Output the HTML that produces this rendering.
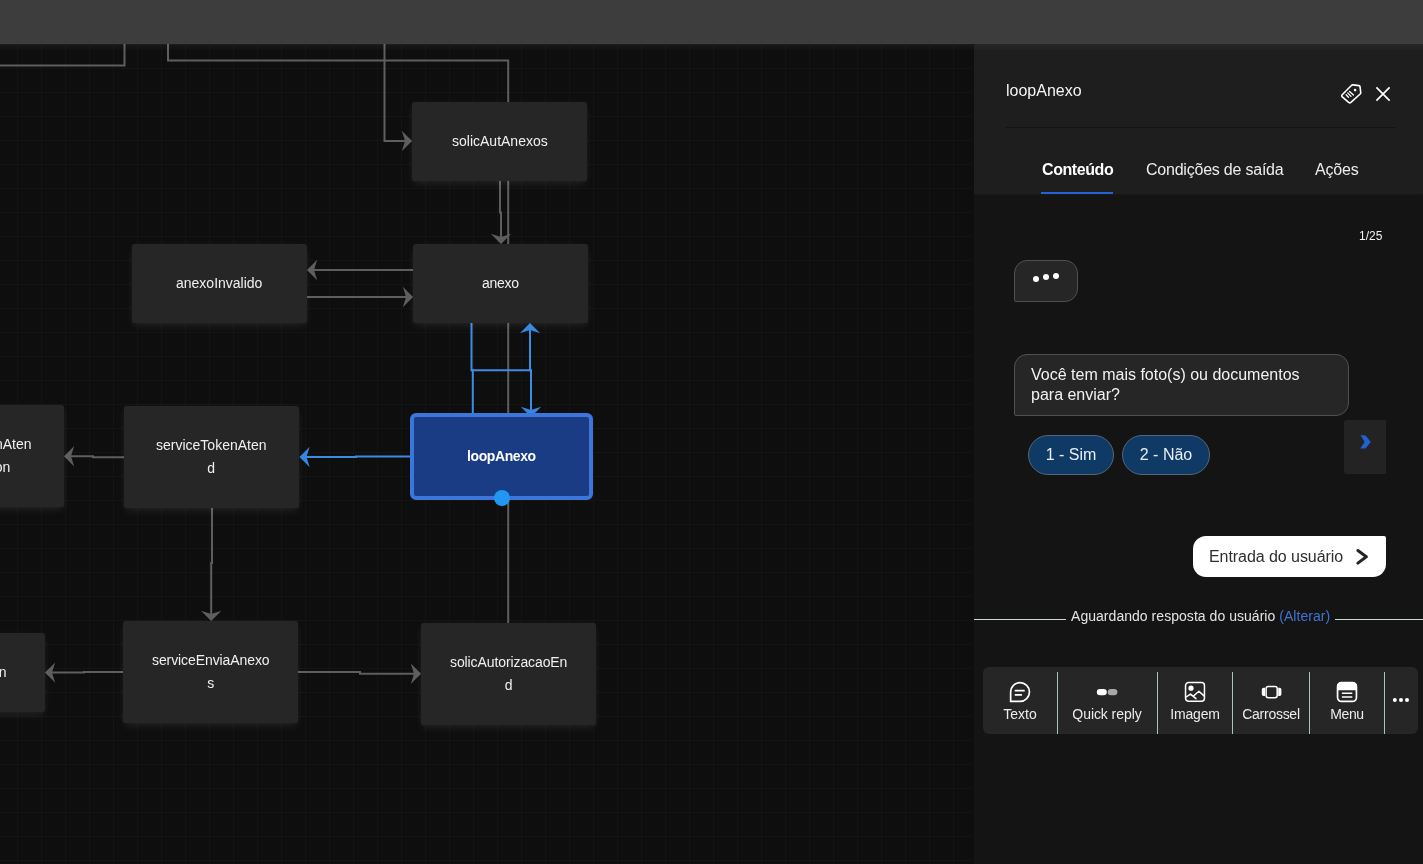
<!DOCTYPE html>
<html lang="pt-BR">
<head>
<meta charset="utf-8">
<title>loopAnexo</title>
<style>
*{box-sizing:border-box;margin:0;padding:0}
html,body{width:1423px;height:864px;overflow:hidden;background:#0e0e0e;font-family:"Liberation Sans",sans-serif;color:#f2f2f2}
#app{position:relative;width:1423px;height:864px;overflow:hidden}
#topbar{position:absolute;left:0;top:0;width:1423px;height:44px;background:#3d3d3d;z-index:30}
#topglow{position:absolute;left:0;top:44px;width:1423px;height:7px;z-index:25;background:linear-gradient(rgba(255,255,255,.04),rgba(255,255,255,.025) 50%,rgba(255,255,255,0))}
#canvas{position:absolute;left:0;top:44px;width:972px;height:820px;overflow:hidden;background-color:#0e0e0e;
background-image:linear-gradient(to right,#141414 1px,transparent 1px),linear-gradient(to bottom,#141414 1px,transparent 1px);
background-size:24px 24px;background-position:17px 0px}
#links{position:absolute;left:0;top:-44px;width:974px;height:864px}
.node{position:absolute;width:175px;height:79px;background:#262626;border-radius:2.5px;box-shadow:0 4px 8px -1px rgba(255,255,255,.08),0 0 6px rgba(255,255,255,.035);
display:flex;align-items:center;justify-content:center;text-align:center;font-size:14px;line-height:22.5px;color:#f0f0f0}
.node.two{height:101.5px}
.node.sel{width:183px;height:87px;background:#193c84;border:4px solid #3d76db;border-radius:6px;font-weight:bold;color:#fff;box-shadow:none}
.node span{display:block;white-space:nowrap;will-change:transform}
.t{will-change:transform}
#dot{position:absolute;left:494px;top:446px;width:16px;height:16px;border-radius:50%;background:#2196f3}

#panel{position:absolute;left:974px;top:44px;width:449px;height:820px;background:#141414;z-index:20}
#phead{position:absolute;left:0;top:0;width:449px;height:150px;background:#1e1e1e;box-shadow:0 1px 2px rgba(255,255,255,.03)}
#ptitle{position:absolute;left:32px;top:37px;font-size:16px;line-height:20px;color:#f4f4f4;white-space:nowrap}
#pdiv{position:absolute;left:32px;top:83px;width:389px;height:1px;background:#131313}
.tab{position:absolute;top:115.5px;font-size:16px;line-height:20px;color:#ededed;white-space:nowrap}
#tabline{position:absolute;left:67px;top:148px;width:72px;height:2px;background:#2563d4}
#count{position:absolute;left:384.5px;top:185px;font-size:12px;line-height:14px;color:#f0f0f0}
.bub{position:absolute;background:#262626;border:1px solid #505050;border-radius:13px 13px 13px 2px}
#typing{left:40px;top:216px;width:64px;height:42px}
#typing i{position:absolute;width:6.4px;height:6.4px;border-radius:50%;background:#fff}
#msg{left:40px;top:310px;width:335px;height:62px;padding:10px 16px;font-size:16px;line-height:20px;color:#f2f2f2;white-space:nowrap}
.qr{position:absolute;top:391px;height:40px;border-radius:20px;background:#0f3a65;border:1px solid #55657b;font-size:16px;line-height:38px;text-align:center;color:#eaeef3;white-space:nowrap}
#next{position:absolute;left:370px;top:376px;width:42px;height:54px;background:#232323;border-radius:3px 0 0 3px}
#userin{position:absolute;left:218.6px;top:492.3px;width:193.5px;height:41px;background:#fff;border-radius:13px 2px 13px 13px;color:#2e2e2e;font-size:16px;line-height:42px;padding-left:16.2px;letter-spacing:-.06px;white-space:nowrap}
#wait{position:absolute;left:0;top:561.5px;width:449px;height:20px;font-size:14px;line-height:20px;color:#e4e4e4;white-space:nowrap;letter-spacing:.04px}
#wait b{position:absolute;top:13.5px;height:1px;background:#c9dcdc}
#wait span{position:absolute;left:97px;top:0}
#wait a{color:#4273d2;text-decoration:none}
#tools{position:absolute;left:9px;top:623px;width:435px;height:67px;background:#262626;border-radius:6px}
#tools .sep{position:absolute;top:5px;width:1px;height:62px;background:#a9c4be}
#tools .lbl{position:absolute;top:38px;font-size:14px;line-height:18px;color:#ececec;white-space:nowrap;transform:translateX(-50%)}
#tools svg{position:absolute}
</style>
</head>
<body>
<div id="app">
<div id="topbar"></div>
<div id="topglow"></div>
<div id="canvas">
<svg id="links" viewBox="0 0 974 864" fill="none" stroke="#5e5e5e" stroke-width="2">
<!-- top-left connectors -->
<path d="M0 65.5H124.5V40"/>
<path d="M168 40V60.5H508.2V624"/>
<path d="M384.5 40V141H408"/>
<path d="M0 0L-10.2 -10.2L-7 0L-10.2 10.2Z" transform="translate(412 141)" fill="#5e5e5e" stroke="none"/>
<!-- solicAutAnexos -> anexo -->
<path d="M500 180V212.5H501V240"/>
<path d="M0 0L-10.2 -10.2L-7 0L-10.2 10.2Z" transform="translate(501 244) rotate(90)" fill="#5e5e5e" stroke="none"/>
<!-- anexo <-> anexoInvalido -->
<path d="M414 270H311"/>
<path d="M0 0L-10.2 -10.2L-7 0L-10.2 10.2Z" transform="translate(307 270) rotate(180)" fill="#5e5e5e" stroke="none"/>
<path d="M306 297H409"/>
<path d="M0 0L-10.2 -10.2L-7 0L-10.2 10.2Z" transform="translate(413 297)" fill="#5e5e5e" stroke="none"/>
<!-- blue loop -->
<g stroke="#3d8ce4">
<path d="M471.5 322V370.3H472.8V415"/>
<path d="M471.5 370.3H531"/>
<path d="M530 328V370.3H531V414"/>
<path d="M411 456.6H356V457H304"/>
</g>
<path d="M0 0L-10.2 -10.2L-7 0L-10.2 10.2Z" transform="translate(530 323) rotate(-90)" fill="#3686df" stroke="none"/>
<path d="M0 0L-10.2 -10.2L-7 0L-10.2 10.2Z" transform="translate(531 417) rotate(90)" fill="#3686df" stroke="none"/>
<path d="M0 0L-10.2 -10.2L-7 0L-10.2 10.2Z" transform="translate(299.5 457) rotate(180)" fill="#3686df" stroke="none"/>
<!-- serviceTokenAtend -> left -->
<path d="M125 457.2H93V456.3H68"/>
<path d="M0 0L-10.2 -10.2L-7 0L-10.2 10.2Z" transform="translate(64 456.3) rotate(180)" fill="#5e5e5e" stroke="none"/>
<!-- serviceTokenAtend -> serviceEnviaAnexos -->
<path d="M212 506V563H211.2V617"/>
<path d="M0 0L-10.2 -10.2L-7 0L-10.2 10.2Z" transform="translate(211.2 621) rotate(90)" fill="#5e5e5e" stroke="none"/>
<!-- serviceEnviaAnexos -> left -->
<path d="M124 672H84V672.6H49"/>
<path d="M0 0L-10.2 -10.2L-7 0L-10.2 10.2Z" transform="translate(45 672.6) rotate(180)" fill="#5e5e5e" stroke="none"/>
<!-- serviceEnviaAnexos -> solicAutorizacaoEnd -->
<path d="M297 672H360V673.8H417"/>
<path d="M0 0L-10.2 -10.2L-7 0L-10.2 10.2Z" transform="translate(421 673.8)" fill="#5e5e5e" stroke="none"/>
</svg>

<div class="node" style="left:412px;top:58px"><span>solicAutAnexos</span></div>
<div class="node" style="left:132px;top:200px"><span>anexoInvalido</span></div>
<div class="node" style="left:413px;top:200px"><span style="letter-spacing:-.3px">anexo</span></div>
<div class="node sel" style="left:410px;top:369px"><span style="letter-spacing:-.4px">loopAnexo</span></div>
<div id="dot"></div>
<div class="node two" style="left:124px;top:362.2px"><div><span>serviceTokenAten</span><span>d</span></div></div>
<div class="node two" style="left:-111px;top:361px"><div><span>serviceTokenAten</span><span>dValidation</span></div></div>
<div class="node two" style="left:123px;top:577px"><div><span style="letter-spacing:-.09px">serviceEnviaAnexo</span><span>s</span></div></div>
<div class="node" style="left:-130px;top:589px"><span>anexoValidation</span></div>
<div class="node two" style="left:421px;top:579px"><div><span style="letter-spacing:-.1px">solicAutorizacaoEn</span><span>d</span></div></div>
</div>
<div id="panel">
<div id="phead">
<div id="ptitle" class="t">loopAnexo</div>
<svg id="tagicon" style="position:absolute;left:366px;top:39px" width="22" height="22" viewBox="0 0 22 22" fill="none" stroke="#fff" stroke-width="1.6" stroke-linejoin="round" stroke-linecap="round">
<path d="M13.2 1.85L18.9 2.65Q19.9 2.8 20.05 3.8L20.75 9.5Q20.85 10.4 20.2 11L10.9 19.4Q9.7 20.4 8.6 19.3L2.3 13.9Q1.2 12.9 2.2 11.8L11.4 2.5Q12.1 1.7 13.2 1.85Z"/>
<circle cx="15.1" cy="7.1" r="1.3" fill="#fff" stroke="none"/>
<path d="M6.1 11.7L8.5 14.3M7.7 9.9L11 13.4M9.6 8.5L13.4 12" stroke-width="1.3"/>
</svg>
<svg id="xicon" style="position:absolute;left:401px;top:42px" width="16" height="16" viewBox="0 0 16 16" fill="none" stroke="#fff" stroke-width="1.7"><path d="M1.4 1.4L14.6 14.6M14.6 1.4L1.4 14.6"/></svg>
<div id="pdiv"></div>
<div class="tab t" style="left:67.5px;font-weight:bold;color:#fff;letter-spacing:-.42px">Conteúdo</div>
<div class="tab t" style="left:171.5px;letter-spacing:-.22px">Condições de saída</div>
<div class="tab t" style="left:341.3px;letter-spacing:-.15px">Ações</div>
<div id="tabline"></div>
</div>
<div id="count" class="t">1/25</div>
<div id="typing" class="bub"><i style="left:17.8px;top:14.8px"></i><i style="left:27.7px;top:13.1px"></i><i style="left:37.8px;top:11.7px"></i></div>
<div id="msg" class="bub"><span class="t" style="display:block">Você tem mais foto(s) ou documentos<br>para enviar?</span></div>
<div class="qr" style="left:54px;width:86px"><span class="t" style="display:block">1 - Sim</span></div>
<div class="qr" style="left:148px;width:88px"><span class="t" style="display:block">2 - Não</span></div>
<div id="next"><svg style="position:absolute;left:15.5px;top:14.5px" width="11" height="14" viewBox="0 0 11 14"><path d="M0.5 0L5.5 0.6L10.8 7L5.5 13.4L0.3 13.6L4.6 7Z" fill="#2160d0"/></svg></div>
<div id="userin"><span class="t" style="display:inline-block">Entrada do usuário</span><svg style="position:absolute;left:162.4px;top:12.2px" width="14" height="17" viewBox="0 0 14 17" fill="none" stroke="#262626" stroke-width="3" stroke-linecap="round" stroke-linejoin="round"><path d="M2.9 2.5L11.3 8.8L2.9 15.1"/></svg></div>
<div id="wait"><b style="left:0;width:92px"></b><span class="t">Aguardando resposta do usuário <a>(Alterar)</a></span><b style="left:361px;width:88px"></b></div>
<div id="tools">
<div class="sep" style="left:74px"></div><div class="sep" style="left:174px"></div><div class="sep" style="left:249px"></div><div class="sep" style="left:326px"></div><div class="sep" style="left:401px"></div>
<div class="lbl t" style="left:37px">Texto</div>
<div class="lbl t" style="left:124.2px;letter-spacing:-.07px">Quick reply</div>
<div class="lbl t" style="left:211.6px;letter-spacing:-.15px">Imagem</div>
<div class="lbl t" style="left:288px;letter-spacing:-.27px">Carrossel</div>
<div class="lbl t" style="left:363.6px;letter-spacing:-.35px">Menu</div>
<svg style="left:26px;top:14px" width="22" height="22" viewBox="0 0 22 22" fill="none" stroke="#fff" stroke-width="1.7" stroke-linecap="round"><path d="M1.65 20.45V11.05A9.4 9.4 0 1 1 11.05 20.45Z" stroke-linejoin="round"/><path d="M6.5 9.7H15M6.5 13.9H12.3"/></svg>
<svg style="left:113px;top:21px" width="22" height="8" viewBox="0 0 22 8"><rect x="0.8" y="0.9" width="10" height="6.4" rx="3.2" fill="#fff"/><rect x="11.7" y="0.9" width="9.7" height="6.4" rx="3.2" fill="#a8a8a8"/></svg>
<svg style="left:201px;top:14px" width="22" height="22" viewBox="0 0 22 22" fill="none" stroke="#fff" stroke-width="1.5" stroke-linecap="round" stroke-linejoin="round"><rect x="1.55" y="1.55" width="18.9" height="18.7" rx="3"/><circle cx="7" cy="7.2" r="2.6" fill="#fff" stroke="none"/><path d="M2.2 16L6.5 13.1L12 17.6M9.2 15.3L14.9 10.2L20.3 15.1"/></svg>
<svg style="left:277.6px;top:18px" width="22" height="14" viewBox="0 0 22 14"><rect x="5.1" y="1.5" width="11.1" height="11.3" rx="2.2" fill="none" stroke="#fff" stroke-width="1.5"/><path d="M4 2.7H2.6Q0.8 2.7 0.8 4.5V9.3Q0.8 11.1 2.6 11.1H4ZM17.2 2.7H18.6Q20.4 2.7 20.4 4.5V9.3Q20.4 11.1 18.6 11.1H17.2Z" fill="#fff"/></svg>
<svg style="left:353px;top:14px" width="22" height="22" viewBox="0 0 22 22"><rect x="1.55" y="1.55" width="18.9" height="18.9" rx="4" fill="none" stroke="#fff" stroke-width="1.7"/><path d="M1.6 9.2V5.5Q1.6 1.6 5.5 1.6H16.5Q20.4 1.6 20.4 5.5V9.2Z" fill="#fff"/><path d="M5.9 12.2H16.3M5.9 16.1H16.3" stroke="#fff" stroke-width="1.5"/></svg>
<svg style="left:408px;top:30px" width="20" height="6" viewBox="0 0 20 6" fill="#fff"><circle cx="3.8" cy="3.1" r="2"/><circle cx="10" cy="3.1" r="2"/><circle cx="16" cy="3.1" r="2"/></svg>

</div>
</div>

</div>
</body>
</html>
